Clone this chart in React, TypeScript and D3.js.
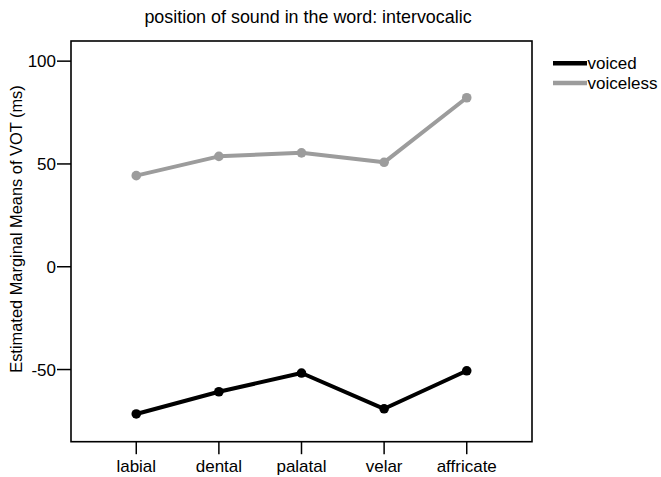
import React from "react";
import * as d3 from "d3";

const categories = ["labial", "dental", "palatal", "velar", "affricate"];
const voiced = [-71.6, -60.8, -51.7, -69.1, -50.6];
const voiceless = [44.3, 53.7, 55.4, 50.8, 82.2];
const yTicks = [-50, 0, 50, 100];
const seriesNames = ["voiced", "voiceless"];
const seriesColors = ["#000000", "#9c9c9c"];
const title = "position of sound in the word: intervocalic";
const yTitle = "Estimated Marginal Means of VOT (ms)";

const W = 661;
const H = 477;
const frame = { left: 71, right: 532, top: 41, bottom: 441.7 };
const FONT = "'Liberation Sans', Arial, sans-serif";

export default function App() {
  const x = d3
    .scalePoint<string>()
    .domain(categories)
    .range([frame.left, frame.right])
    .padding(0.79);
  const y = d3.scaleLinear().domain([-85.1, 109.8]).range([frame.bottom, frame.top]);
  const line = d3
    .line<number>()
    .x((_, i) => x(categories[i]) as number)
    .y((d) => y(d));
  const series = [voiced, voiceless];

  return (
    <div style={{ position: "absolute", left: 0, top: 0 }}>
      <svg width={W} height={H} style={{ display: "block", background: "#fff" }} fontFamily={FONT}>
        <text x={308} y={23} fontSize={17.9} textAnchor="middle" fill="#000">
          {title}
        </text>
        <rect
          x={frame.left}
          y={frame.top}
          width={frame.right - frame.left}
          height={frame.bottom - frame.top}
          fill="none"
          stroke="#000"
          strokeWidth={1.6}
        />
        {yTicks.map((t) => (
          <g key={t}>
            <line x1={frame.left - 14} x2={frame.left} y1={y(t)} y2={y(t)} stroke="#000" strokeWidth={1.5} />
            <text x={frame.left - 15} y={y(t)} dy="0.36em" fontSize={17} textAnchor="end" fill="#000">
              {t}
            </text>
          </g>
        ))}
        {categories.map((c) => (
          <g key={c}>
            <line x1={x(c)} x2={x(c)} y1={frame.bottom} y2={frame.bottom + 12.5} stroke="#000" strokeWidth={1.5} />
            <text x={x(c)} y={471.5} fontSize={17} textAnchor="middle" fill="#000">
              {c}
            </text>
          </g>
        ))}
        <text
          transform={`translate(21.5,229) rotate(-90)`}
          fontSize={16.4}
          textAnchor="middle"
          fill="#000"
        >
          {yTitle}
        </text>
        {series.map((s, si) => (
          <g key={si}>
            <path d={line(s) || ""} fill="none" stroke={seriesColors[si]} strokeWidth={4} strokeLinejoin="round" />
            {s.map((v, i) => (
              <circle key={i} cx={x(categories[i])} cy={y(v)} r={4.8} fill={seriesColors[si]} />
            ))}
          </g>
        ))}
        {seriesNames.map((n, i) => (
          <g key={n}>
            <line x1={553} x2={587} y1={63.3 + i * 19.8} y2={63.3 + i * 19.8} stroke={seriesColors[i]} strokeWidth={4.5} />
            <text x={587.5} y={63.3 + i * 19.8} dy="0.36em" fontSize={17} fill="#000">
              {n}
            </text>
          </g>
        ))}
      </svg>
    </div>
  );
}
